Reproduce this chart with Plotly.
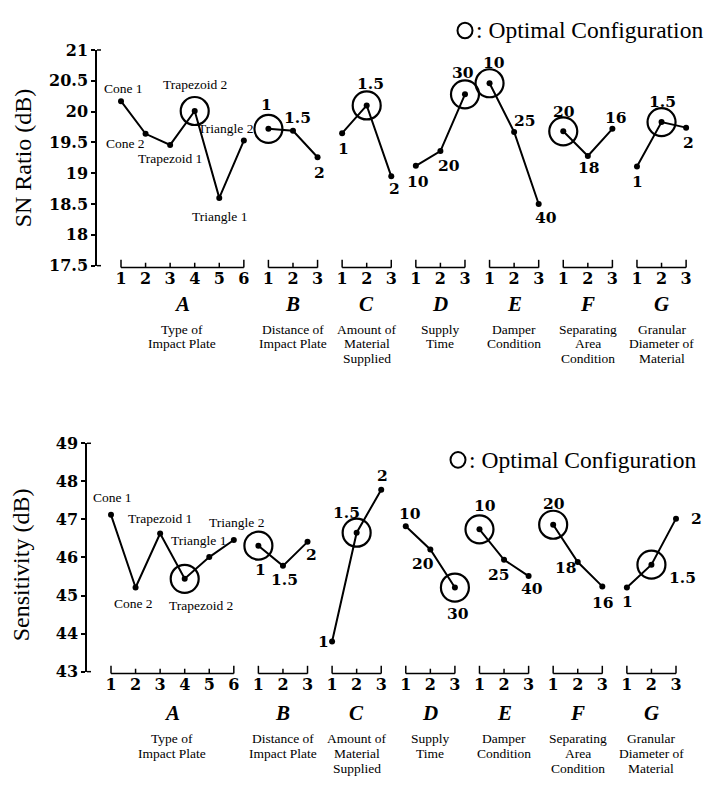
import plotly.graph_objects as go

W, H = 708, 789

# ---------------- data ----------------
factors = ["A", "B", "C", "D", "E", "F", "G"]
factor_desc = [
    ["Type of", "Impact Plate"],
    ["Distance of", "Impact Plate"],
    ["Amount of", "Material", "Supplied"],
    ["Supply", "Time"],
    ["Damper", "Condition"],
    ["Separating", "Area", "Condition"],
    ["Granular", "Diameter of", "Material"],
]
level_names = [
    ["Cone 1", "Cone 2", "Trapezoid 1", "Trapezoid 2", "Triangle 1", "Triangle 2"],
    ["1", "1.5", "2"],
    ["1", "1.5", "2"],
    ["10", "20", "30"],
    ["10", "25", "40"],
    ["20", "18", "16"],
    ["1", "1.5", "2"],
]

sn_A = [20.17, 19.64, 19.46, 20.01, 18.60, 19.53]
sn_B = [19.72, 19.69, 19.26]
sn_C = [19.65, 20.10, 18.95]
sn_D = [19.12, 19.36, 20.28]
sn_E = [20.46, 19.67, 18.50]
sn_F = [19.68, 19.28, 19.72]
sn_G = [19.11, 19.83, 19.74]

sens_A = [47.12, 45.21, 46.63, 45.44, 46.01, 46.46]
sens_B = [46.31, 45.78, 46.41]
sens_C = [43.79, 46.65, 47.78]
sens_D = [46.82, 46.21, 45.21]
sens_E = [46.74, 45.94, 45.51]
sens_F = [46.86, 45.88, 45.24]
sens_G = [45.21, 45.81, 47.02]

optimal_level = [4, 1, 2, 3, 1, 1, 2]   # 1-based level index, same in both panels

sn_ticks = [17.5, 18, 18.5, 19, 19.5, 20, 20.5, 21]
sn_ticktext = ["17.5", "18", "18.5", "19", "19.5", "20", "20.5", "21"]
sens_ticks = [43, 44, 45, 46, 47, 48, 49]
sens_ticktext = ["43", "44", "45", "46", "47", "48", "49"]

legend_text = ": Optimal Configuration"

# ---------------- styling / geometry ----------------
NUM_FONT = "DejaVu Serif"
TXT_FONT = "Liberation Serif, Times New Roman, serif"

top_offsets = [
    [(3, -13), (-20, 10), (0, 14), (0, -26), (0, 19), (-18, -12)],
    [(-2, -24), (5, -13), (2, 15)],
    [(1, 15), (4, -22), (3, 12)],
    [(2, 16), (9, 14), (-2, -22)],
    [(4, -21), (11, -11), (7, 13)],
    [(1, -20), (1, 12), (4, -11)],
    [(1, 15), (1, -21), (2, 15)],
]
bot_offsets = [
    [(1, -17), (-2, 16), (0, -15), (16, 27), (-11, -17), (3, -17)],
    [(2, 24), (2, 14), (4, 13)],
    [(-9, 0), (-10, -20), (1, -14)],
    [(4, -13), (-7, 14), (3, 26)],
    [(6, -24), (-5, 15), (3, 12)],
    [(1, -21), (-12, 5), (1, 16)],
    [(1, 14), (31, 13), (20, 0)],
]

panels = [
    dict(title="SN Ratio (dB)",
         values=[sn_A, sn_B, sn_C, sn_D, sn_E, sn_F, sn_G],
         ticks=sn_ticks, ticktext=sn_ticktext,
         axis_px=97, first_px=121, step_px=24.57, right_px=705,
         top_px=42, bot_px=263, title_xy=(23, 153), legend_xy=(465, 22),
         offsets=top_offsets, bracket_y=265, letter_y=302, desc_y=328),
    dict(title="Sensitivity (dB)",
         values=[sens_A, sens_B, sens_C, sens_D, sens_E, sens_F, sens_G],
         ticks=sens_ticks, ticktext=sens_ticktext,
         axis_px=87, first_px=111, step_px=24.565, right_px=705,
         top_px=445, bot_px=679, title_xy=(21, 570), legend_xy=(458, 462),
         offsets=bot_offsets, bracket_y=681, letter_y=721, desc_y=748),
]


def px_x(p):
    return p / W


def px_y(p):
    return 1 - p / H


fig = go.Figure()
shapes = []
annotations = []

# level positions along the shared x scale
starts = []
s = 0
for names in level_names:
    starts.append(s)
    s += len(names)
positions = [[starts[i] + j for j in range(len(level_names[i]))] for i in range(len(factors))]
all_pos = [p for grp in positions for p in grp]
all_ticktext = [str(j + 1) for grp in positions for j in range(len(grp))]

for pi, P in enumerate(panels):
    xa = "x" if pi == 0 else "x2"
    ya = "y" if pi == 0 else "y2"
    xkey = "xaxis" if pi == 0 else "xaxis2"
    ykey = "yaxis" if pi == 0 else "yaxis2"
    vmin, vmax = P["ticks"][0], P["ticks"][-1]

    xr = [(P["axis_px"] - P["first_px"]) / P["step_px"],
          (P["right_px"] - P["first_px"]) / P["step_px"]]
    fig.update_layout({
        xkey: dict(domain=[px_x(P["axis_px"]), px_x(P["right_px"])], range=xr,
                   anchor=ya, showgrid=False, zeroline=False, showline=False,
                   tickmode="array", tickvals=all_pos, ticktext=all_ticktext,
                   ticks="", ticklabelstandoff=1,
                   tickfont=dict(family=NUM_FONT, size=16, color="black", weight="bold")),
        ykey: dict(domain=[px_y(P["bot_px"]), px_y(P["top_px"])], range=[vmin, vmax],
                   anchor=xa, showgrid=False, zeroline=False, showline=True,
                   linecolor="black", linewidth=1.5,
                   tickmode="array", tickvals=P["ticks"], ticktext=P["ticktext"],
                   ticks="outside", ticklen=4, tickwidth=1.5, tickcolor="black",
                   tickfont=dict(family=NUM_FONT, size=16, color="black", weight="bold")),
    })

    # hooks at the ends of the y axis line
    for yy in (P["top_px"], P["bot_px"]):
        shapes.append(dict(type="line", xref="paper", yref="paper",
                           x0=px_x(P["axis_px"]), x1=px_x(P["axis_px"] + 4),
                           y0=px_y(yy), y1=px_y(yy),
                           line=dict(color="black", width=1.5)))

    # y title
    annotations.append(dict(xref="paper", yref="paper",
                            x=px_x(P["title_xy"][0]), y=px_y(P["title_xy"][1]),
                            text=P["title"], showarrow=False, textangle=-90,
                            xanchor="center", yanchor="middle",
                            font=dict(family=TXT_FONT, size=24, color="black")))

    # legend
    cx, cy = P["legend_xy"]
    shapes.append(dict(type="circle", xref="paper", yref="paper",
                       x0=px_x(cx - 7.5), x1=px_x(cx + 7.5),
                       y0=px_y(cy - 8), y1=px_y(cy + 8),
                       line=dict(color="black", width=2)))
    annotations.append(dict(xref="paper", yref="paper", x=px_x(cx + 9), y=px_y(cy),
                            text=legend_text, showarrow=False,
                            xanchor="left", yanchor="middle",
                            font=dict(family=TXT_FONT, size=23.5, color="black")))

    for fi, f in enumerate(factors):
        xs = positions[fi]
        ys = P["values"][fi]
        fig.add_trace(go.Scatter(
            x=xs, y=ys, xaxis=xa, yaxis=ya, mode="lines+markers",
            line=dict(color="black", width=2),
            marker=dict(color="black", size=6),
            cliponaxis=False, showlegend=False, hoverinfo="skip"))
        oi = optimal_level[fi] - 1
        fig.add_trace(go.Scatter(
            x=[xs[oi]], y=[ys[oi]], xaxis=xa, yaxis=ya, mode="markers",
            marker=dict(symbol="circle-open", size=28, color="black",
                        line=dict(color="black", width=2.2)),
            cliponaxis=False, showlegend=False, hoverinfo="skip"))

        # level labels
        for j, name in enumerate(level_names[fi]):
            dx, dy = P["offsets"][fi][j]
            if fi == 0:
                fnt = dict(family=TXT_FONT, size=13.5, color="black")
            else:
                fnt = dict(family=NUM_FONT, size=15.5, color="black", weight="bold")
            annotations.append(dict(xref=xa, yref=ya, x=xs[j], y=ys[j], text=name,
                                    showarrow=False, xshift=dx, yshift=-dy,
                                    xanchor="center", yanchor="middle", font=fnt))

        # bracket under the level ticks
        by = px_y(P["bracket_y"])
        shapes.append(dict(type="line", xref=xa, yref="paper",
                           x0=xs[0], x1=xs[-1], y0=by, y1=by,
                           line=dict(color="black", width=1.5)))
        for j, xv in enumerate(xs):
            h = 8 if j in (0, len(xs) - 1) else 5
            shapes.append(dict(type="line", xref=xa, yref="paper",
                               x0=xv, x1=xv, y0=by, y1=px_y(P["bracket_y"] - h),
                               line=dict(color="black", width=1.5)))

        center = (xs[0] + xs[-1]) / 2
        annotations.append(dict(xref=xa, yref="paper", x=center, y=px_y(P["letter_y"]),
                                text="<b><i>%s</i></b>" % f, showarrow=False,
                                xanchor="center", yanchor="middle",
                                font=dict(family=TXT_FONT, size=21, color="black")))
        for li, line in enumerate(factor_desc[fi]):
            annotations.append(dict(xref=xa, yref="paper", x=center,
                                    y=px_y(P["desc_y"] + 15 * li),
                                    text=line, showarrow=False,
                                    xanchor="center", yanchor="middle",
                                    font=dict(family=TXT_FONT, size=13.5, color="black")))

fig.update_layout(width=W, height=H, autosize=False,
                  margin=dict(l=0, r=0, t=0, b=0, pad=0),
                  paper_bgcolor="white", plot_bgcolor="white",
                  shapes=shapes, annotations=annotations, showlegend=False)

fig.write_html("out.html", config={"displayModeBar": False},
               post_script="document.body.style.margin='0';document.body.style.overflow='hidden';")
